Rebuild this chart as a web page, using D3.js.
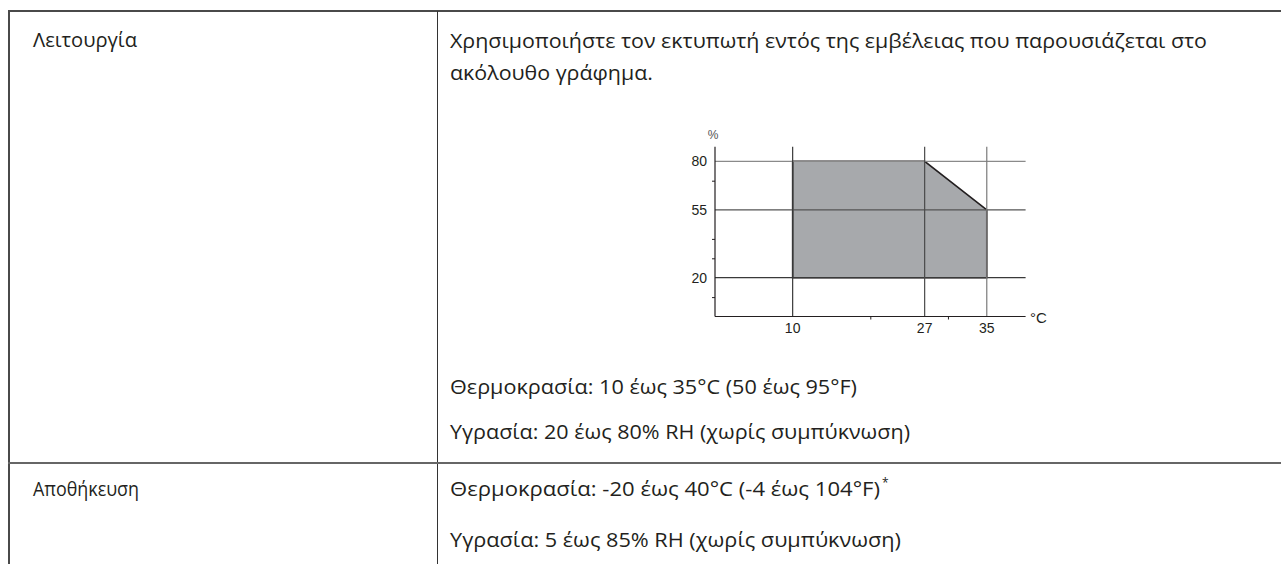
<!DOCTYPE html>
<html>
<head>
<meta charset="utf-8">
<script src="https://cdn.jsdelivr.net/npm/d3@7"></script>
<style>
  html, body { margin: 0; padding: 0; background: #fff; }
  svg { display: block; }
</style>
</head>
<body>
<svg id="chart" width="1281" height="564"></svg>
<script>
// ---------- DATA ----------
const rowLabels = ["Λειτουργία", "Αποθήκευση"];
const introLines = [
  "Χρησιμοποιήστε τον εκτυπωτή εντός της εμβέλειας που παρουσιάζεται στο",
  "ακόλουθο γράφημα."
];
const operationNotes = [
  "Θερμοκρασία: 10 έως 35°C (50 έως 95°F)",
  "Υγρασία: 20 έως 80% RH (χωρίς συμπύκνωση)"
];
const storageNotes = [
  "Θερμοκρασία: -20 έως 40°C (-4 έως 104°F)",
  "Υγρασία: 5 έως 85% RH (χωρίς συμπύκνωση)"
];
// operating range polygon (temperature °C, relative humidity %)
const rangeTemps    = [10, 10, 27, 35, 35];
const rangeHumidity = [20, 80, 80, 55, 20];
const xTicks      = [10, 27, 35];
const xMinorTicks = [20, 30];
const yTicks      = [20, 55, 80];
const yMinorTicks = [10, 30, 40, 70];
const xDomain = [0, 40];
const yDomain = [0, 87.5];
const xUnit = "°C";
const yUnit = "%";

// ---------- LAYOUT ----------
const svg = d3.select("#chart");
const ink = "#231f20";
const bodyFont = "'Open Sans', 'Noto Sans', sans-serif";
const chartFont = "'Liberation Sans Narrow', 'Liberation Sans', Arial, sans-serif";
const bodySize = 20;

// table rules
const table = svg.append("g");
table.append("line").attr("x1", 8).attr("x2", 1281).attr("y1", 11).attr("y2", 11)
  .attr("stroke", "#4a4a4a").attr("stroke-width", 2);
table.append("line").attr("x1", 9).attr("x2", 9).attr("y1", 10).attr("y2", 564)
  .attr("stroke", "#4a4a4a").attr("stroke-width", 2);
table.append("line").attr("x1", 437.5).attr("x2", 437.5).attr("y1", 11).attr("y2", 564)
  .attr("stroke", "#333").attr("stroke-width", 1);
table.append("line").attr("x1", 8).attr("x2", 1281).attr("y1", 463).attr("y2", 463)
  .attr("stroke", "#666").attr("stroke-width", 2);

// text; optional target width fitted with textLength
function addText(str, x, y, width) {
  const t = svg.append("text").attr("x", x).attr("y", y)
    .attr("font-family", bodyFont).attr("font-size", bodySize)
    .attr("fill", ink).text(str);
  if (width) {
    t.attr("textLength", width).attr("lengthAdjust", "spacingAndGlyphs");
  }
  return t;
}

addText(rowLabels[0], 33, 47, 104);
addText(rowLabels[1], 33, 496, 106);
addText(introLines[0], 450, 48, 757);
// second line uses the same horizontal compression as the first
const l1w = (() => { const n = svg.append("text").attr("font-family", bodyFont)
  .attr("font-size", bodySize).text(introLines[0]); const w = n.node().getComputedTextLength(); n.remove(); return w; })();
const l2 = addText(introLines[1], 450, 80);
const l2w = l2.node().getComputedTextLength();
l2.attr("textLength", l2w * 757 / l1w).attr("lengthAdjust", "spacingAndGlyphs");
addText(operationNotes[0], 450, 394, 407);
addText(operationNotes[1], 450, 439, 460);
addText(storageNotes[0], 450, 496, 430);
svg.append("text").attr("x", 882).attr("y", 487).attr("font-family", bodyFont)
  .attr("font-size", 12).attr("fill", ink).text("*");
addText(storageNotes[1], 450, 547, 451);

// ---------- CHART ----------
const x = d3.scaleLinear().domain(xDomain).range([715, 1025.6]);
const y = d3.scaleLinear().domain(yDomain).range([316.5, 146.75]);
const g = svg.append("g");

// polygon
const pts = rangeTemps.map((t, i) => [x(t), y(rangeHumidity[i])]);
g.append("path")
  .attr("d", d3.line()(pts) + "Z")
  .attr("fill", "#a7a9ac")
  .attr("stroke", ink).attr("stroke-width", 1.6).attr("stroke-linejoin", "miter");

// horizontal grid lines
g.selectAll(".hg").data(yTicks).join("line")
  .attr("x1", x(xDomain[0])).attr("x2", x(xDomain[1]))
  .attr("y1", d => y(d)).attr("y2", d => y(d))
  .attr("stroke", (d, i) => ["#3a3a3a", "#555", "#8a8a8a"][i]).attr("stroke-width", 1.2);
// vertical grid lines
g.selectAll(".vg").data(xTicks).join("line")
  .attr("x1", d => x(d)).attr("x2", d => x(d))
  .attr("y1", y(0)).attr("y2", y(yDomain[1]))
  .attr("stroke", (d, i) => ["#3a3a3a", "#4a4a4a", "#7a7a7a"][i]).attr("stroke-width", 1.2);

// axes
const xAxis = d3.axisBottom(x).tickValues(xMinorTicks).tickSize(3).tickFormat("");
const yAxis = d3.axisLeft(y).tickValues(yMinorTicks).tickSize(3).tickFormat("");
const gx = g.append("g").attr("transform", `translate(0,${y(0)})`).call(xAxis);
const gy = g.append("g").attr("transform", `translate(${x(0)},0)`).call(yAxis);
[gx, gy].forEach(a => {
  a.select(".domain").attr("stroke", ink).attr("stroke-width", 1.2);
  a.selectAll(".tick line").attr("stroke", ink).attr("stroke-width", 1);
});
gx.select(".domain").attr("d", `M${x(xDomain[0])},0H${x(xDomain[1])}`);
gy.select(".domain").attr("d", `M0,${y(yDomain[0])}V${y(yDomain[1])}`);

// tick labels
g.selectAll(".xl").data(xTicks).join("text")
  .attr("x", d => x(d)).attr("y", 333)
  .attr("text-anchor", "middle").attr("font-family", chartFont)
  .attr("font-size", 14).attr("fill", ink).text(d => d);
g.selectAll(".yl").data(yTicks).join("text")
  .attr("x", 707).attr("y", d => y(d) + 5)
  .attr("text-anchor", "end").attr("font-family", chartFont)
  .attr("font-size", 14).attr("fill", ink).text(d => d);
g.append("text").attr("x", 713).attr("y", 139).attr("text-anchor", "middle")
  .attr("font-family", chartFont).attr("font-size", 12).attr("fill", "#555").text(yUnit);
g.append("text").attr("x", 1030).attr("y", 323)
  .attr("font-family", chartFont).attr("font-size", 15).attr("fill", ink).text(xUnit);
</script>
</body>
</html>
